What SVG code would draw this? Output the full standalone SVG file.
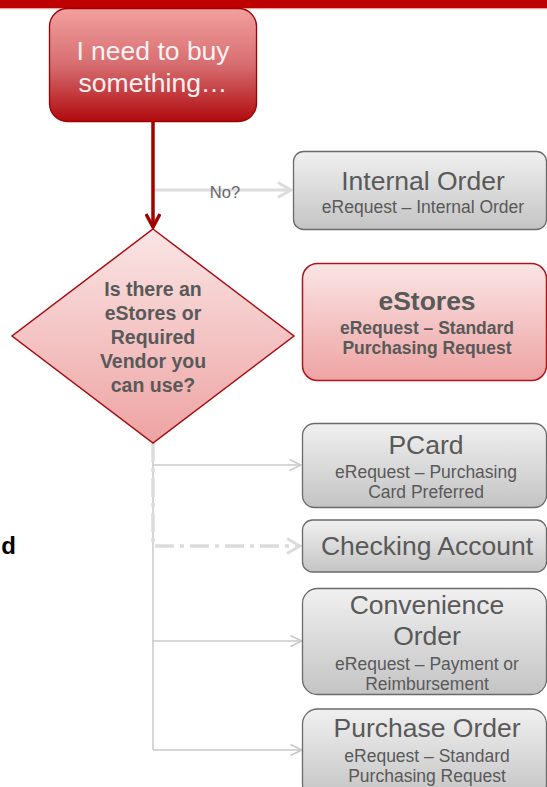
<svg xmlns="http://www.w3.org/2000/svg" width="547" height="787" viewBox="0 0 547 787">
<defs>
  <linearGradient id="gStart" x1="0" y1="0" x2="0" y2="1">
    <stop offset="0" stop-color="#F3A09F"/>
    <stop offset="0.5" stop-color="#D66D70"/>
    <stop offset="1" stop-color="#B00A0E"/>
  </linearGradient>
  <linearGradient id="gPink" x1="0" y1="0" x2="0" y2="1">
    <stop offset="0" stop-color="#FAE5E5"/>
    <stop offset="1" stop-color="#EEA3A3"/>
  </linearGradient>
  <linearGradient id="gGrey" x1="0" y1="0" x2="0" y2="1">
    <stop offset="0" stop-color="#F0F0F0"/>
    <stop offset="1" stop-color="#C4C4C4"/>
  </linearGradient>
  <marker id="arrRed" viewBox="0 0 16 16" refX="14" refY="8" markerWidth="16" markerHeight="16" markerUnits="userSpaceOnUse" orient="auto">
    <path d="M1,1 L14,8 L1,15" fill="none" stroke="#A00000" stroke-width="3.5"/>
  </marker>
  <marker id="arrGreyThick" viewBox="0 0 16 18" refX="14" refY="9" markerWidth="16" markerHeight="18" markerUnits="userSpaceOnUse" orient="auto">
    <path d="M1,1.5 L14,9 L1,16.5" fill="none" stroke="#DCDCDC" stroke-width="3"/>
  </marker>
  <marker id="arrGrey" viewBox="0 0 13 13" refX="12" refY="6.5" markerWidth="13" markerHeight="13" markerUnits="userSpaceOnUse" orient="auto">
    <path d="M0.5,1 L12,6.5 L0.5,12" fill="none" stroke="#C8C8C8" stroke-width="1.5"/>
  </marker>
</defs>
<style>
  .t { font-family: "Liberation Sans", Arial, sans-serif; text-anchor: middle; fill: #595959; }
  .title { font-size: 26.5px; }
  .sub { font-size: 17.5px; }
  .b { font-weight: bold; }
  .grey { fill: url(#gGrey); stroke: #6A6A6A; stroke-width: 1.3; }
  .pink { fill: url(#gPink); stroke: #B0141A; stroke-width: 1.5; }
  .thin { fill: none; stroke: #C8C8C8; stroke-width: 1.5; }
</style>

<rect x="0" y="0" width="547" height="8" fill="#BE0000"/>
<rect x="0" y="8" width="547" height="1.2" fill="#EAA3A3"/>

<g id="connectors">
  <line x1="153" y1="122" x2="153" y2="227" stroke="#A00000" stroke-width="3.5" marker-end="url(#arrRed)"/>
  <line x1="155" y1="190" x2="291" y2="190" stroke="#DCDCDC" stroke-width="3" marker-end="url(#arrGreyThick)"/>
  <text x="225" y="198" class="t" style="font-size:16.5px;fill:#666666">No?</text>
  <line x1="153" y1="443" x2="153" y2="750" class="thin"/>
  <line x1="153" y1="465" x2="301" y2="465" class="thin" marker-end="url(#arrGrey)"/>
  <path d="M153,443 V546 H300" fill="none" stroke="#DCDCDC" stroke-width="3.5" stroke-dasharray="19 6 4 6" marker-end="url(#arrGreyThick)"/>
  <line x1="153" y1="641" x2="302" y2="641" class="thin" marker-end="url(#arrGrey)"/>
  <line x1="153" y1="750" x2="302" y2="750" class="thin" marker-end="url(#arrGrey)"/>
</g>

<g id="start">
  <rect x="49.5" y="8.5" width="207" height="113" rx="18" fill="url(#gStart)" stroke="#A00000" stroke-width="1.3"/>
  <text x="153" y="60" class="t title" style="fill:#FDF2F2">I need to buy</text>
  <text x="153" y="92" class="t title" style="fill:#FDF2F2">something…</text>
</g>

<g id="decision">
  <polygon points="153,229 294,336 153,443 12,336" class="pink" style="stroke:#A80C10"/>
  <g class="t b" style="font-size:19.5px">
    <text x="153" y="296">Is there an</text>
    <text x="153" y="320">eStores or</text>
    <text x="153" y="344">Required</text>
    <text x="153" y="368">Vendor you</text>
    <text x="153" y="392">can use?</text>
  </g>
</g>

<g id="internal-order">
  <rect x="293.5" y="151.5" width="253" height="78" rx="10" class="grey"/>
  <text x="423" y="190" class="t title">Internal Order</text>
  <text x="423" y="213" class="t sub">eRequest – Internal Order</text>
</g>

<g id="estores">
  <rect x="302.5" y="263.5" width="244" height="117" rx="15" class="pink"/>
  <text x="427" y="310" class="t title b">eStores</text>
  <text x="427" y="334" class="t sub b">eRequest – Standard</text>
  <text x="427" y="354" class="t sub b">Purchasing Request</text>
</g>

<g id="pcard">
  <rect x="302.5" y="423.5" width="244" height="84" rx="12" class="grey"/>
  <text x="426" y="454" class="t title">PCard</text>
  <text x="426" y="478" class="t sub">eRequest – Purchasing</text>
  <text x="426" y="498" class="t sub">Card Preferred</text>
</g>

<g id="checking-account">
  <rect x="302.5" y="520" width="244" height="52" rx="10" class="grey"/>
  <text x="427" y="555" class="t title">Checking Account</text>
</g>

<g id="convenience-order">
  <rect x="302.5" y="588.5" width="244" height="106" rx="15" class="grey"/>
  <text x="427" y="614" class="t title">Convenience</text>
  <text x="427" y="645" class="t title">Order</text>
  <text x="427" y="670" class="t sub">eRequest – Payment or</text>
  <text x="427" y="690" class="t sub">Reimbursement</text>
</g>

<g id="purchase-order">
  <rect x="302.5" y="709" width="244" height="90" rx="15" class="grey"/>
  <text x="427" y="737" class="t title">Purchase Order</text>
  <text x="427" y="762" class="t sub">eRequest – Standard</text>
  <text x="427" y="782" class="t sub">Purchasing Request</text>
</g>

<text x="16" y="554" style="font-family:'Liberation Sans', Arial, sans-serif;font-size:24px;font-weight:bold;fill:#000;text-anchor:end">d</text>
</svg>
